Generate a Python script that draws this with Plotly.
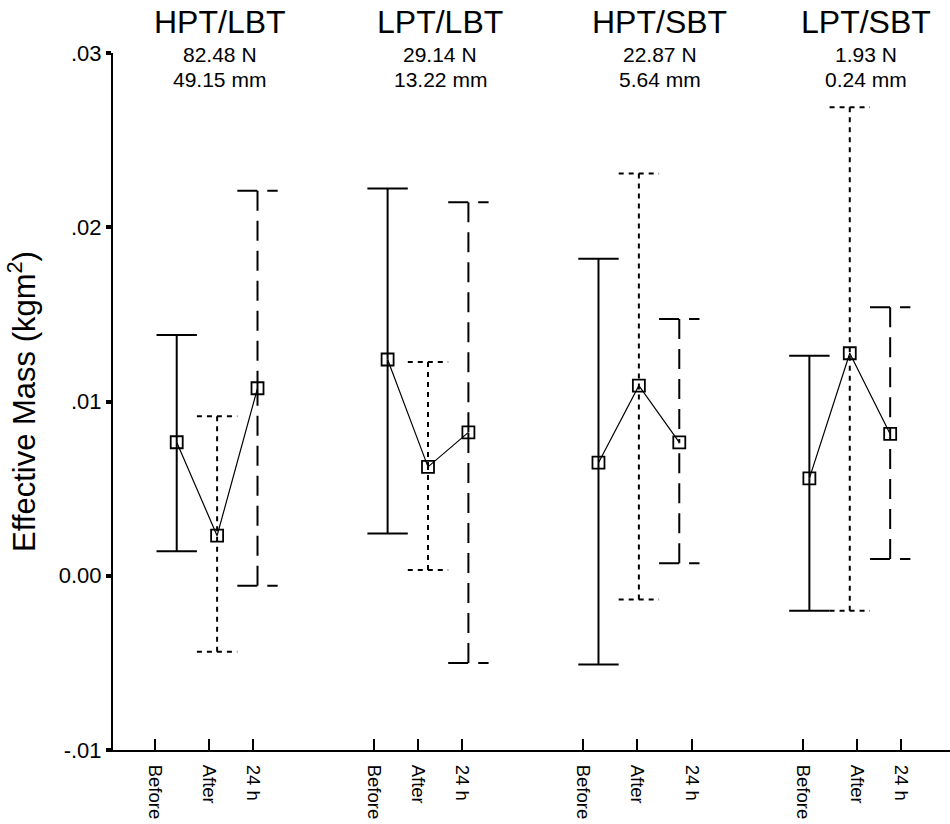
import plotly.graph_objects as go

# ---------------- data ----------------
groups = ["HPT/LBT", "LPT/LBT", "HPT/SBT", "LPT/SBT"]
force_labels = ["82.48 N", "29.14 N", "22.87 N", "1.93 N"]
disp_labels = ["49.15 mm", "13.22 mm", "5.64 mm", "0.24 mm"]
times = ["Before", "After", "24 h"]

means = [
    [0.00766, 0.00230, 0.01076],
    [0.01241, 0.00625, 0.00823],
    [0.00649, 0.01091, 0.00765],
    [0.00559, 0.01277, 0.00814],
]
upper = [
    [0.01382, 0.00915, 0.02210],
    [0.02223, 0.01227, 0.02143],
    [0.01819, 0.02308, 0.01474],
    [0.01263, 0.02689, 0.01541],
]
lower = [
    [0.00140, -0.00436, -0.00057],
    [0.00243, 0.00033, -0.00501],
    [-0.00510, -0.00137, 0.00072],
    [-0.00201, -0.00201, 0.00096],
]

y_tickvals = [-0.01, 0.0, 0.01, 0.02, 0.03]
y_ticktext = ["-.01", "0.00", ".01", ".02", ".03"]

# x tick label positions (in slot units) for each group's Before/After/24 h label
x_tick_pos = [-0.54, 0.81, 1.90, 4.89, 5.98, 7.05, 10.06, 11.40, 12.76, 15.50, 16.85, 17.93]
# heading centres (slot units)
heading_pos = [1.07, 6.52, 11.96, 17.07]

# ---------------- layout helpers ----------------
GROUP_STEP = 5.22
CAP = 0.5
FONT = "Liberation Sans, Arial, sans-serif"


def xpos(g, k):
    return g * GROUP_STEP + k


styles = [
    dict(dash="solid", width=2),
    dict(dash="5px,5px", width=2),
    dict(dash="20px,10px", width=2),
]

fig = go.Figure()

# error bars (drawn as separate dashed segments)
for g in range(len(groups)):
    for k in range(len(times)):
        xc = xpos(g, k)
        hi, lo, m = upper[g][k], lower[g][k], means[g][k]
        segs = [
            ([xc - CAP, xc + CAP], [hi, hi]),
            ([xc - CAP, xc + CAP], [lo, lo]),
            ([xc, xc], [hi, m]),
            ([xc, xc], [lo, m]),
        ]
        for sx, sy in segs:
            fig.add_trace(go.Scatter(
                x=sx, y=sy, mode="lines",
                line=dict(color="black", width=styles[k]["width"], dash=styles[k]["dash"]),
                hoverinfo="skip", showlegend=False,
            ))

# connecting lines + markers
for g in range(len(groups)):
    xs = [xpos(g, k) for k in range(len(times))]
    fig.add_trace(go.Scatter(
        x=xs, y=means[g], mode="lines",
        line=dict(color="black", width=1.2),
        hoverinfo="skip", showlegend=False,
    ))
for g in range(len(groups)):
    xs = [xpos(g, k) for k in range(len(times))]
    fig.add_trace(go.Scatter(
        x=xs, y=means[g], mode="markers",
        marker=dict(symbol="square-open", size=12, color="black", line=dict(width=1.8, color="black")),
        hoverinfo="skip", showlegend=False,
    ))

# group headings
annotations = []
for g in range(len(groups)):
    xc = heading_pos[g]
    annotations.append(dict(x=xc, y=1.0449, xref="x", yref="paper", text=groups[g],
                            showarrow=False, xanchor="center", yanchor="middle",
                            font=dict(family=FONT, size=32, color="black")))
    annotations.append(dict(x=xc, y=0.9981, xref="x", yref="paper", text=force_labels[g],
                            showarrow=False, xanchor="center", yanchor="middle",
                            font=dict(family=FONT, size=21, color="black")))
    annotations.append(dict(x=xc, y=0.9613, xref="x", yref="paper", text=disp_labels[g],
                            showarrow=False, xanchor="center", yanchor="middle",
                            font=dict(family=FONT, size=21, color="black")))

fig.update_layout(
    width=950, height=824,
    margin=dict(l=113, r=0, t=53, b=74),
    paper_bgcolor="white", plot_bgcolor="white",
    font=dict(family=FONT, color="black"),
    annotations=annotations,
    xaxis=dict(
        range=[-1.577, 19.141],
        showgrid=False, zeroline=False,
        showline=True, linewidth=2, linecolor="black",
        ticks="inside", ticklen=11, tickwidth=1.5, tickcolor="black",
        tickmode="array", tickvals=x_tick_pos, ticktext=times * len(groups),
        tickangle=90, ticklabelstandoff=9,
        tickfont=dict(family=FONT, size=18.5, color="black"),
    ),
    yaxis=dict(
        range=[-0.01, 0.03],
        showgrid=False, zeroline=False,
        showline=True, linewidth=2, linecolor="black",
        ticks="outside", ticklen=5, tickwidth=3.5, tickcolor="black",
        tickmode="array", tickvals=y_tickvals, ticktext=y_ticktext,
        tickfont=dict(family=FONT, size=22, color="black"),
        title=dict(text="Effective Mass (kgm<sup>2</sup>)", standoff=14,
                   font=dict(family=FONT, size=31, color="black")),
    ),
)

fig.write_html("out.html", config={"displayModeBar": False})
